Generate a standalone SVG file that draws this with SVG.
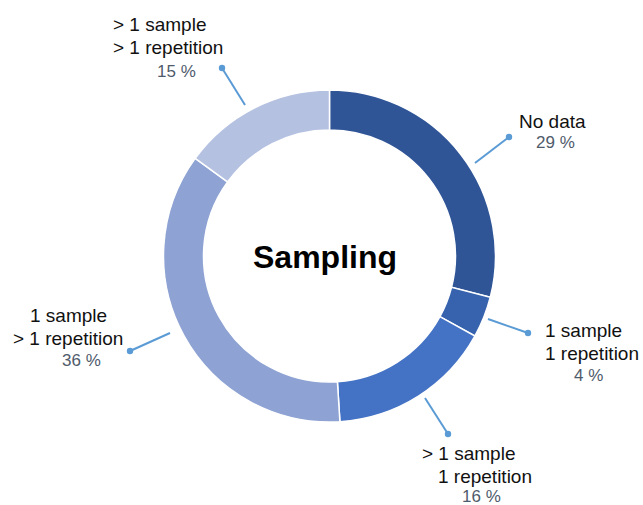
<svg xmlns="http://www.w3.org/2000/svg" width="643" height="505" viewBox="0 0 643 505">
<style>
.slice{stroke:#ffffff;stroke-width:1.5}
.lead{stroke:#5b9bd5;stroke-width:2;fill:none}
.dot{fill:#5b9bd5}
.lbl{font-family:"Liberation Sans",Arial,sans-serif;font-size:19px;fill:#111111}
.pct{font-family:"Liberation Sans",Arial,sans-serif;font-size:17px;fill:#4f5b6b}
.title{font-family:"Liberation Sans",Arial,sans-serif;font-size:32px;font-weight:bold;fill:#000000}
</style>
<rect width="643" height="505" fill="#ffffff"/>
<g id="donut">
<path id="slice-nodata" class="slice" fill="#2f5597" d="M329.5,90 A166,166 0 0 1 490.28,297.28 L451.54,287.33 A126,126 0 0 0 329.5,130 Z"/>
<path id="slice-1s1r" class="slice" fill="#3763ae" d="M490.28,297.28 A166,166 0 0 1 474.97,335.97 L439.91,316.70 A126,126 0 0 0 451.54,287.33 Z"/>
<path id="slice-gt1s1r" class="slice" fill="#4472c4" d="M474.97,335.97 A166,166 0 0 1 339.92,421.67 L337.41,381.75 A126,126 0 0 0 439.91,316.70 Z"/>
<path id="slice-1sgt1r" class="slice" fill="#8ea3d3" d="M339.92,421.67 A166,166 0 0 1 195.20,158.43 L227.56,181.94 A126,126 0 0 0 337.41,381.75 Z"/>
<path id="slice-gt1sgt1r" class="slice" fill="#b5c1e1" d="M195.20,158.43 A166,166 0 0 1 329.5,90 L329.5,130 A126,126 0 0 0 227.56,181.94 Z"/>
</g>
<g id="center-title"><text class="title" x="325" y="268" text-anchor="middle">Sampling</text></g>
<g id="connectors">
<line class="lead" x1="245" y1="105" x2="222" y2="68"/><circle class="dot" cx="222" cy="68" r="3.2"/>
<line class="lead" x1="475" y1="163" x2="509" y2="137"/><circle class="dot" cx="509" cy="137" r="3.2"/>
<line class="lead" x1="488" y1="319" x2="528" y2="333"/><circle class="dot" cx="528" cy="333" r="3.2"/>
<line class="lead" x1="170" y1="333" x2="130" y2="351"/><circle class="dot" cx="130" cy="351" r="3.2"/>
<line class="lead" x1="425" y1="398" x2="448" y2="434"/><circle class="dot" cx="448" cy="434" r="3.2"/>
</g>
<g id="label-gt1s-gt1r">
<text class="lbl" x="113" y="31">&gt; 1 sample</text>
<text class="lbl" x="113" y="54">&gt; 1 repetition</text>
<text class="pct" x="157" y="77">15 %</text>
</g>
<g id="label-nodata">
<text class="lbl" x="519" y="128">No data</text>
<text class="pct" x="536" y="148">29 %</text>
</g>
<g id="label-1s-1r">
<text class="lbl" x="545" y="337">1 sample</text>
<text class="lbl" x="545" y="360">1 repetition</text>
<text class="pct" x="574" y="381">4 %</text>
</g>
<g id="label-1s-gt1r">
<text class="lbl" x="30" y="322">1 sample</text>
<text class="lbl" x="13" y="345">&gt; 1 repetition</text>
<text class="pct" x="62" y="366">36 %</text>
</g>
<g id="label-gt1s-1r">
<text class="lbl" x="422" y="460">&gt; 1 sample</text>
<text class="lbl" x="438" y="483">1 repetition</text>
<text class="pct" x="462" y="502">16 %</text>
</g>
</svg>
